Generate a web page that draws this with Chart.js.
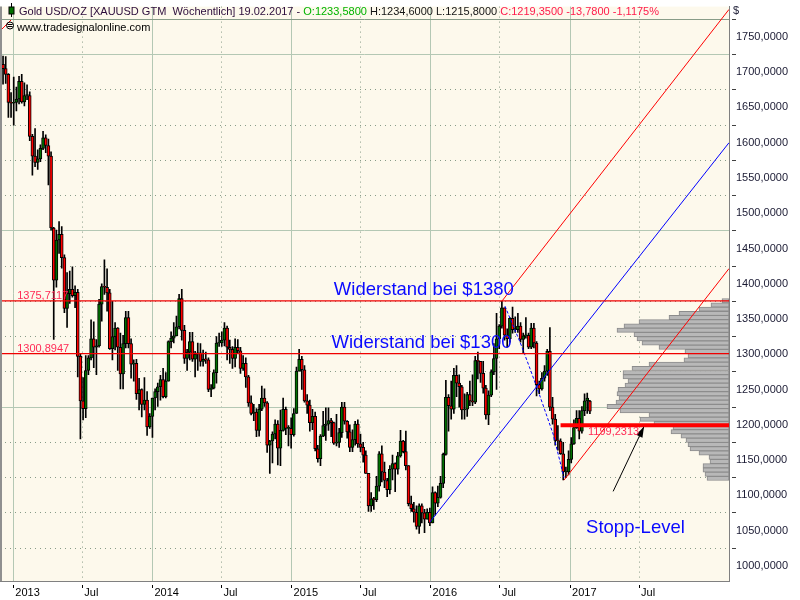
<!DOCTYPE html>
<html>
<head>
<meta charset="utf-8">
<title>Gold USD/OZ weekly</title>
<script src="https://cdn.jsdelivr.net/npm/chart.js@4.4.1/dist/chart.umd.min.js"></script>
<style>
  html, body { margin: 0; padding: 0; background: #fff; }
  canvas { display: block; }
</style>
</head>
<body>
<canvas id="chart" width="800" height="600"></canvas>
<script>
// weekly candles, first one is the week of 03.12.2012 (plotted mid-week)
var firstWeek = '2012-12-05';
var opens = [
  1711,1705,1697,1657,1656,
  1657,1662,1687,1658,1667,1667,1609,1581,1572,1577,1592,1607,1596,1581,1479,1405,1462,1470,1437,1365,1386,1392,1383,1388,1297,1234,1223,1277,1295,1322,1310,1312,1371,1396,1395,1387,1308,1325,1337,1310,1272,1315,1352,1315,1286,1287,1244,1250,1229,1235,1197,1212,
  1238,1247,1254,1264,1240,1262,1318,1323,1326,1339,1379,1334,1294,1303,1318,1293,1300,1302,1290,1293,1292,1250,1252,1274,1316,1316,1320,1337,1310,1307,1294,1310,1305,1280,1287,1268,1231,1216,1218,1192,1222,1238,1231,1171,1177,1187,1201,1167,1192,1222,1195,1195,
  1186,1216,1276,1293,1278,1234,1228,1203,1212,1166,1152,1184,1199,1201,1206,1203,1174,1175,1189,1225,1205,1190,1168,1179,1201,1173,1168,1157,1131,1085,1095,1094,1113,1159,1133,1121,1108,1137,1145,1137,1156,1177,1162,1142,1088,1081,1076,1056,1085,1075,1066,1076,
  1061,1104,1089,1097,1117,1158,1239,1227,1222,1270,1259,1254,1221,1222,1243,1234,1232,1291,1290,1273,1252,1214,1242,1275,1294,1322,1340,1366,1327,1322,1351,1335,1335,1340,1321,1326,1327,1310,1337,1316,1257,1251,1266,1276,1304,1225,1208,1178,1177,1159,1133,1133,
  1151,1173,1196,1209,1191,1220,1234,1233.58
];
var highs = [
  1723,1722,1698,1671,1693,
  1679,1694,1697,1685,1682,1672,1612,1620,1590,1597,1616,1611,1605,1587,1480,1476,1488,1481,1441,1416,1418,1424,1397,1392,1300,1267,1298,1298,1349,1346,1321,1378,1400,1434,1421,1392,1375,1345,1338,1330,1327,1361,1361,1322,1292,1293,1266,1251,1267,1247,1216,1238,
  1251,1259,1270,1280,1274,1319,1332,1345,1354,1385,1392,1341,1307,1331,1331,1304,1316,1315,1306,1303,1295,1257,1278,1325,1330,1332,1345,1340,1320,1311,1322,1321,1310,1298,1295,1270,1241,1229,1223,1229,1255,1251,1233,1178,1190,1207,1206,1221,1238,1225,1199,1210,
  1223,1282,1307,1297,1284,1243,1235,1222,1218,1171,1186,1219,1224,1224,1209,1204,1215,1195,1232,1232,1206,1200,1193,1205,1207,1187,1175,1163,1131,1104,1097,1127,1162,1170,1147,1124,1142,1157,1146,1161,1192,1178,1191,1142,1099,1090,1085,1088,1088,1080,1081,1082,
  1112,1105,1113,1127,1160,1263,1243,1262,1280,1284,1271,1256,1244,1246,1262,1271,1297,1303,1290,1290,1256,1248,1278,1315,1358,1342,1375,1366,1336,1352,1367,1353,1358,1345,1330,1352,1330,1344,1344,1318,1262,1274,1284,1307,1338,1239,1215,1199,1180,1175,1140,1163,
  1182,1207,1220,1220,1226,1244,1245,1234.6
];
var lows = [
  1683,1684,1636,1636,1625,
  1645,1655,1656,1652,1661,1603,1554,1566,1562,1573,1590,1586,1540,1476,1321,1395,1443,1422,1359,1338,1372,1381,1366,1268,1180,1207,1210,1271,1292,1281,1271,1310,1347,1385,1361,1307,1292,1306,1277,1251,1251,1309,1309,1266,1262,1236,1221,1211,1221,1185,1195,1182,
  1221,1226,1235,1238,1238,1262,1309,1316,1326,1336,1320,1287,1277,1292,1290,1268,1277,1283,1283,1287,1247,1240,1251,1259,1311,1311,1312,1292,1287,1280,1282,1302,1273,1277,1253,1226,1214,1206,1183,1184,1220,1226,1161,1131,1146,1180,1143,1142,1191,1186,1170,1167,
  1184,1216,1276,1250,1232,1216,1191,1193,1163,1147,1142,1183,1178,1192,1183,1172,1170,1168,1182,1201,1181,1162,1162,1171,1168,1162,1147,1131,1077,1077,1080,1091,1106,1119,1111,1098,1102,1122,1105,1130,1154,1160,1136,1085,1077,1062,1052,1046,1061,1047,1066,1057,
  1061,1072,1084,1096,1111,1157,1191,1208,1216,1240,1225,1208,1208,1212,1227,1227,1230,1265,1260,1245,1208,1200,1240,1271,1250,1308,1337,1320,1310,1317,1330,1331,1331,1317,1302,1323,1308,1308,1309,1241,1244,1249,1262,1270,1220,1201,1171,1164,1158,1122,1125,1129,
  1146,1172,1195,1180,1188,1213,1216,1215.8
];
var closes = [
  1705,1697,1657,1656,1657,
  1662,1687,1658,1667,1667,1609,1581,1572,1577,1592,1607,1596,1581,1479,1405,1462,1470,1437,1365,1386,1392,1383,1388,1297,1234,1223,1277,1295,1322,1310,1312,1371,1396,1395,1387,1308,1325,1337,1310,1272,1315,1352,1315,1286,1287,1244,1250,1229,1235,1197,1212,1238,
  1247,1254,1264,1240,1262,1318,1323,1326,1339,1379,1334,1294,1303,1318,1293,1300,1302,1290,1293,1292,1250,1252,1274,1316,1316,1320,1337,1310,1307,1294,1310,1305,1280,1287,1268,1231,1216,1218,1192,1222,1238,1231,1171,1177,1187,1201,1167,1192,1222,1195,1195,1186,
  1216,1276,1293,1278,1234,1228,1203,1212,1166,1152,1184,1199,1201,1206,1203,1174,1175,1189,1225,1205,1190,1168,1179,1201,1173,1168,1157,1131,1085,1095,1094,1113,1159,1133,1121,1108,1137,1145,1137,1156,1177,1162,1142,1088,1081,1076,1056,1085,1075,1066,1076,1061,
  1104,1089,1097,1117,1158,1239,1227,1222,1270,1259,1254,1221,1222,1243,1234,1232,1291,1290,1273,1252,1214,1242,1275,1294,1322,1340,1366,1327,1322,1351,1335,1335,1340,1321,1326,1327,1310,1337,1316,1257,1251,1266,1276,1304,1225,1208,1178,1177,1159,1133,1133,1151,
  1173,1196,1209,1191,1220,1234,1238,1219.35
];

var xTickDates = ['2013-01-01','2013-07-01','2014-01-01','2014-07-01','2015-01-01','2015-07-01','2016-01-01','2016-07-01','2017-01-01','2017-07-01'];
var xTickLabels = ['2013','Jul','2014','Jul','2015','Jul','2016','Jul','2017','Jul'];
var yTickValues = [1000,1050,1100,1150,1200,1250,1300,1350,1400,1450,1500,1550,1600,1650,1700,1750];

// volume profile on the right side
var profilePrices = [1376,1370,1364,1358,1352,1346,1340,1334,1328,1322,1316,1310,1304,1298,1292,1286,1280,1274,1268,1262,1256,1250,1244,1238,1232,1226,1220,1214,1208,1202,1196,1190,1184,1178,1172,1166,1160,1154,1148,1142,1136,1130,1124];
var profileVolume = [7,18,30,50,60,90,105,112,95,92,87,70,44,41,45,80,97,106,106,101,104,111,112,110,113,122,109,80,89,75,56,58,48,43,41,39,30,20,19,26,26,24,22];

// drawn lines
var resist1380 = 1375.7117;
var resist1300 = 1300.8947;
var stopLevel = 1199.2313;
var blueTrendDates = ['2015-12-30', '2018-02-22'];
var blueTrendPrices = [1062, 1600];
var redUpperDates = ['2016-07-06', '2018-02-22'];
var redUpperPrices = [1375.3, 1789];
var redLowerDates = ['2016-12-16', '2018-02-22'];
var redLowerPrices = [1121.5, 1421.5];
var dashDates = ['2016-07-14', '2016-08-23', '2016-09-18', '2016-10-10', '2016-11-18', '2016-12-16'];
var dashPrices = [1368.3, 1316.8, 1279.4, 1246.7, 1186, 1125.2];
var stopDates = ['2016-12-07', '2018-02-22'];
var arrowDates = ['2017-04-24', '2017-07-14'];
var arrowPrices = [1105.6, 1197.7];

var axisStart = '2012-11-27', axisEnd = '2018-02-22';

function day(s) {
  return (Date.parse(s + 'T00:00:00Z') - Date.UTC(2013, 0, 1)) / 864e5;
}
function pts(dates, prices) {
  return dates.map(function(d, i) { return {x: day(d), y: prices[i]}; });
}
function hasFont(name) {
  var c = document.createElement('canvas').getContext('2d');
  c.font = '20px monospace';
  var a = c.measureText('1750,0000 Wg').width;
  c.font = '20px "' + name + '", monospace';
  return c.measureText('1750,0000 Wg').width !== a;
}

var narrow = hasFont('Liberation Sans Narrow');
var smallFont = narrow ? {family: 'Liberation Sans Narrow', size: 13} : {family: 'Liberation Sans', size: 11};
var smallCss = smallFont.size + 'px "' + smallFont.family + '"';
var bigCss = '18.5px "Liberation Sans"';

var upColor = '#007000', downColor = '#ff0000';
var solidGrid = '#b4c8b4', dotGrid = '#889c88';
var weekDays = opens.map(function(_, i) { return day(firstWeek) + 7 * i; });
var xMin = day(axisStart), xMax = day(axisEnd);

var wickData = weekDays.map(function(x, i) { return {x: x, y: [lows[i], highs[i]]}; });
var bodyData = weekDays.map(function(x, i) { return {x: x, y: [opens[i], closes[i]]}; });
var profileData = profilePrices.map(function(p, i) { return {y: p, x: profileVolume[i]}; });

function lineSet(label, data, color, width, dash) {
  return {
    type: 'line', label: label, data: data,
    borderColor: color, borderWidth: width, borderDash: dash || [],
    pointRadius: 0, tension: 0, fill: false, order: 0, clip: 0
  };
}

var datasets = [
  lineSet('stop', [{x: day(stopDates[0]), y: stopLevel}, {x: day(stopDates[1]), y: stopLevel}], '#ff0000', 4),
  lineSet('arrow', pts(arrowDates, arrowPrices), '#000000', 1),
  lineSet('r1380', [{x: xMin, y: resist1380}, {x: xMax, y: resist1380}], '#f00000', 1.2),
  lineSet('r1300', [{x: xMin, y: resist1300}, {x: xMax, y: resist1300}], '#f00000', 1.2),
  lineSet('blue', pts(blueTrendDates, blueTrendPrices), '#0000ff', 1),
  lineSet('redUp', pts(redUpperDates, redUpperPrices), '#ff0000', 1),
  lineSet('redLow', pts(redLowerDates, redLowerPrices), '#ff0000', 1),
  lineSet('dash', pts(dashDates, dashPrices), '#0000ff', 1, [3, 2]),
  {
    type: 'bar', label: 'body', data: bodyData, order: 1,
    backgroundColor: function(ctx) {
      var i = ctx.dataIndex;
      if (i === undefined) return upColor;
      return closes[i] >= opens[i] ? upColor : downColor;
    },
    borderColor: '#000', borderWidth: 1, borderSkipped: false,
    barThickness: 3, grouped: false, minBarLength: 1
  },
  {
    type: 'bar', label: 'wick', data: wickData, order: 2,
    backgroundColor: '#000', borderWidth: 0,
    barThickness: 1, grouped: false
  },
  {
    type: 'bar', label: 'profile', data: profileData, order: 3,
    indexAxis: 'y', xAxisID: 'xv', yAxisID: 'y',
    backgroundColor: '#b8b8b8', borderColor: '#8c8c8c', borderWidth: 1, borderSkipped: false,
    barThickness: 4.3, grouped: false
  }
];
var arrowIndex = 1;

var decor = {
  id: 'decor',
  beforeDraw: function(chart) {
    var c = chart.ctx, a = chart.chartArea;
    c.save();
    c.fillStyle = '#ffffff';
    c.fillRect(0, 0, chart.width, chart.height);
    c.fillStyle = '#fdf9ec';
    c.fillRect(a.left, a.top, a.right - a.left, a.bottom - a.top);
    c.restore();
  },
  afterDatasetsDraw: function(chart) {
    var c = chart.ctx, xs = chart.scales.x, ys = chart.scales.y;
    var meta = chart.getDatasetMeta(arrowIndex);
    var p0 = meta.data[0], p1 = meta.data[1];
    var ang = Math.atan2(p1.y - p0.y, p1.x - p0.x);
    var L = 11, W = 3.5;
    c.save();
    c.fillStyle = '#000';
    c.beginPath();
    c.moveTo(p1.x, p1.y);
    c.lineTo(p1.x - L * Math.cos(ang) + W * Math.sin(ang), p1.y - L * Math.sin(ang) - W * Math.cos(ang));
    c.lineTo(p1.x - L * Math.cos(ang) - W * Math.sin(ang), p1.y - L * Math.sin(ang) + W * Math.cos(ang));
    c.closePath();
    c.fill();

    function note(text, date, price, color, font, dy) {
      c.font = font;
      c.fillStyle = color;
      c.textAlign = 'left';
      c.textBaseline = 'alphabetic';
      c.fillText(text, xs.getPixelForValue(day(date)), ys.getPixelForValue(price) + (dy || 0));
    }
    note('Widerstand bei $1380', '2015-04-22', 1384, '#0a0aff', bigCss);
    note('Widerstand bei $1300', '2015-04-16', 1308.4, '#0a0aff', bigCss);
    note('Stopp-Level', '2017-02-12', 1046.3, '#0a0aff', bigCss);
    note('1375,7117', '2013-01-11', resist1380, '#ff2a55', smallCss, -1.5);
    note('1300,8947', '2013-01-11', resist1300, '#ff2a55', smallCss, -1.5);
    note('1199,2313', '2017-02-17', stopLevel, '#ff2a55', smallCss, 10);
    c.restore();
  },
  afterDraw: function(chart) {
    var c = chart.ctx, a = chart.chartArea;
    c.save();
    // left frame line
    c.strokeStyle = '#909090';
    c.lineWidth = 2;
    c.beginPath();
    c.moveTo(a.left + 1, a.top);
    c.lineTo(a.left + 1, a.bottom);
    c.stroke();

    // header
    c.font = smallCss;
    c.textBaseline = 'alphabetic';
    c.textAlign = 'left';
    var segs = [
      ['Gold USD/OZ [XAUUSD GTM  W\u00f6chentlich] 19.02.2017 - ', '#2b0b3b'],
      ['O:1233,5800 ', '#00b400'],
      ['H:1234,6000 L:1215,8000 ', '#141414'],
      ['C:1219,3500 -13,7800 -1,1175%', '#ff1a4a']
    ];
    var x = 19;
    segs.forEach(function(s) {
      c.fillStyle = s[1];
      c.fillText(s[0], x, 15);
      x += c.measureText(s[0]).width;
    });
    c.fillStyle = '#000';
    c.fillText('www.tradesignalonline.com', 17, 31);

    // small icons
    c.strokeStyle = '#000';
    c.lineWidth = 1;
    c.beginPath();
    c.moveTo(11.5, 3); c.lineTo(11.5, 17);
    c.stroke();
    c.fillStyle = '#007000';
    c.fillRect(9, 7, 5, 7);
    c.strokeRect(9, 7, 5, 7);
    c.strokeStyle = '#ff0000';
    c.beginPath();
    c.moveTo(2, 29); c.lineTo(11, 20);
    c.stroke();
    c.strokeStyle = '#000';
    c.beginPath();
    c.arc(10, 25.5, 3.5, 0, Math.PI * 2);
    c.moveTo(7.5, 24.5); c.lineTo(12.5, 24.5);
    c.moveTo(7.5, 26.5); c.lineTo(12.5, 26.5);
    c.stroke();

    // currency sign above the price axis
    c.fillStyle = '#1a1a33';
    c.font = smallCss;
    c.fillText('$', a.right + 4, 14);
    c.restore();
  }
};

new Chart(document.getElementById('chart'), {
  type: 'bar',
  data: {datasets: datasets},
  plugins: [decor],
  options: {
    responsive: false,
    animation: false,
    devicePixelRatio: 1,
    events: [],
    layout: {padding: 0},
    plugins: {legend: {display: false}, tooltip: {enabled: false}},
    scales: {
      x: {
        type: 'linear', axis: 'x', position: 'bottom',
        min: xMin, max: xMax, offset: false,
        afterBuildTicks: function(s) { s.ticks = xTickDates.map(function(t) { return {value: day(t)}; }); },
        afterFit: function(s) { s.height = 19; },
        ticks: {
          autoSkip: false, maxRotation: 0, minRotation: 0,
          align: 'start', labelOffset: 2, padding: -2,
          color: '#000', font: smallFont,
          callback: function(v, i) { return xTickLabels[i]; }
        },
        grid: {
          offset: false, lineWidth: 1,
          color: function(ctx) { return xTickLabels[ctx.index] === 'Jul' ? dotGrid : solidGrid; },
          tickLength: 7, tickColor: '#000', tickWidth: 1, tickBorderDash: [0, 3, 10]
        },
        border: {
          display: true, color: '#808080', width: 1,
          dash: function(ctx) { return (ctx.tick && xTickLabels[ctx.index] === 'Jul') ? [1, 4] : []; }
        }
      },
      y: {
        type: 'linear', axis: 'y', position: 'right',
        min: 978.5, max: 1793, offset: false,
        afterBuildTicks: function(s) { s.ticks = yTickValues.map(function(v) { return {value: v}; }); },
        afterFit: function(s) { s.width = 71; },
        ticks: {
          padding: 0, color: '#1a1a33', font: smallFont,
          callback: function(v) { return v.toFixed(4).replace('.', ','); }
        },
        grid: {
          lineWidth: 1,
          color: function(ctx) { return (ctx.tick && ctx.tick.value % 250 === 0) ? solidGrid : dotGrid; },
          tickLength: 7, tickColor: '#404040', tickWidth: 1, tickBorderDash: [0, 2, 10]
        },
        border: {
          display: true, color: '#808080', width: 1,
          dash: function(ctx) { return (ctx.tick && ctx.tick.value % 250 !== 0) ? [1, 4] : []; }
        }
      },
      xv: {
        type: 'linear', axis: 'x', display: false,
        reverse: true, min: 0, max: 729, offset: false,
        grid: {display: false}
      }
    }
  }
});
</script>
</body>
</html>
